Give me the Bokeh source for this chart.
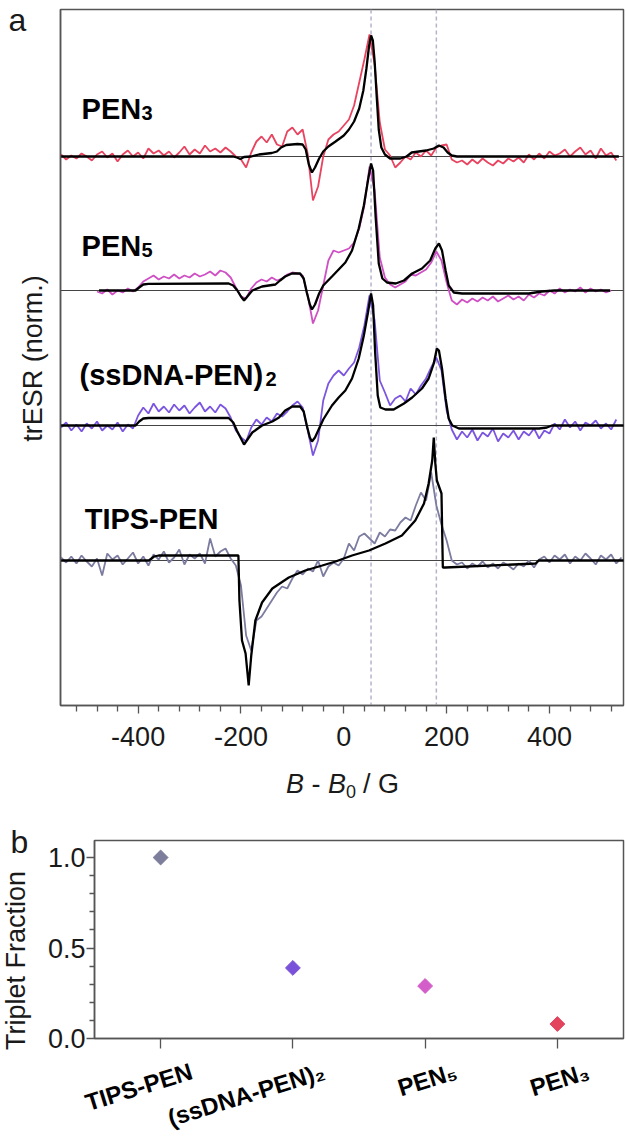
import math
from bokeh.plotting import figure
from bokeh.models import FixedTicker, Label, Span, NumeralTickFormatter, Range1d, CustomLabelingPolicy
from bokeh.embed import file_html
from bokeh.resources import INLINE

FONT = "Liberation Sans"

# ---------------- panel a data (trESR spectra, B - B0 in G) ----------------
SAMPLES = ["PEN", "PEN", "(ssDNA-PEN)", "TIPS-PEN"]
SUBSCRIPTS = ["3", "5", "2", ""]
TRACE_COLORS = ["#e8435f", "#cf4fc4", "#7b55e0", "#7c7ca0"]
OFFSETS = [4.04, 2.70, 1.35, 0.0]
FIELD_STEP = 10

PEN3_START = -550
PEN3_EXP = [0.02, -0.03, 0.01, -0.02, 0.03, 0.00, -0.04, 0.02, 0.05, -0.01,
            0.03, -0.05, 0.02, 0.06, 0.00, 0.04, -0.02, 0.08, 0.03, 0.06,
            0.01, 0.05, -0.01, 0.04, 0.10, 0.02, 0.07, 0.03, 0.11, 0.05,
            0.08, 0.04, 0.09, 0.05, 0.00, -0.03, -0.11, 0.04, 0.15, 0.20,
            0.14, 0.22, 0.12, 0.10, 0.25, 0.29, 0.22, 0.27, 0.02, -0.44,
            -0.30, 0.00, 0.17, 0.22, 0.25, 0.31, 0.37, 0.51, 0.74, 0.97,
            1.22, 0.92, 0.34, 0.07, 0.01, -0.11, -0.06, 0.00, -0.03, 0.04,
            0.00, 0.06, 0.01, 0.09, 0.11, 0.12, -0.03, -0.06, -0.04, -0.08,
            -0.03, -0.07, -0.02, -0.06, -0.09, -0.04, -0.07, -0.02, -0.05, -0.01,
            -0.06, 0.02, -0.03, 0.03, -0.02, 0.05, 0.01, 0.03, 0.07, 0.00,
            0.05, 0.09, 0.02, 0.06, -0.02, 0.08, 0.01, 0.04, -0.04]
PEN3_FIT_X = [-551, -215, -208, -201, -194, -180, -165, -140, -130, -122, -112, -90, -80,
              -74, -68, -62, -56, -48, -40, -30, -16, 0, 10, 20, 30, 38, 44, 49, 53, 56.5,
              60, 64, 68, 73, 80, 90, 110, 122, 132, 160, 175, 185, 194, 202, 210, 220, 535]
PEN3_FIT_Y = [0.0, 0.0, -0.01, -0.025, -0.005, 0.0, 0.02, 0.035, 0.05, 0.09, 0.115, 0.125, 0.12,
              0.07, -0.08, -0.16, -0.11, -0.02, 0.05, 0.10, 0.15, 0.21, 0.27, 0.35, 0.48, 0.66,
              0.88, 1.10, 1.21, 1.16, 0.95, 0.60, 0.27, 0.09, 0.02, -0.02, -0.02, 0.0, 0.04,
              0.06, 0.08, 0.11, 0.09, 0.04, 0.01, 0.0, 0.0]

PEN5_START = -480
PEN5_EXP = [-0.01, -0.03, 0.01, -0.04, 0.00, -0.02, 0.02, -0.01, 0.03, 0.09,
            0.12, 0.15, 0.11, 0.14, 0.12, 0.16, 0.12, 0.15, 0.13, 0.17,
            0.14, 0.16, 0.19, 0.15, 0.20, 0.18, 0.13, 0.03, -0.06, -0.08,
            0.02, 0.08, 0.11, 0.09, 0.13, 0.10, 0.12, 0.16, 0.18, 0.17,
            0.15, -0.05, -0.33, -0.20, 0.05, 0.30, 0.40, 0.38, 0.40, 0.42,
            0.48, 0.62, 0.85, 1.24, 1.00, 0.33, 0.13, 0.06, 0.03, 0.06,
            0.09, 0.16, 0.15, 0.18, 0.21, 0.28, 0.39, 0.30, 0.08, -0.10,
            -0.14, -0.09, -0.12, -0.08, -0.11, -0.07, -0.10, -0.06, -0.11, -0.08,
            -0.05, -0.09, -0.06, -0.10, -0.04, -0.07, -0.03, -0.05, 0.00, -0.03,
            0.02, -0.02, 0.01, -0.01, 0.03, -0.02, 0.02, -0.01, 0.01, -0.02, 0.00]
PEN5_FIT_X = [-476, -405, -398, -390, -380, -224, -215, -207, -200, -194, -186, -178, -159,
              -133, -124, -114, -101, -85, -78, -72, -66, -62, -56, -48, -40, -23, -10, 3, 16,
              29, 39, 47, 53, 57, 62, 68, 75, 84, 101, 117, 133, 152, 168, 178, 185, 191, 198,
              204, 214, 230, 360, 385, 410, 518]
PEN5_FIT_Y = [0.0, 0.0, 0.03, 0.06, 0.067, 0.07, 0.05, 0.0, -0.06, -0.10, -0.05, 0.0, 0.04,
              0.06, 0.10, 0.14, 0.17, 0.17, 0.12, -0.02, -0.14, -0.19, -0.14, -0.03, 0.05, 0.14,
              0.21, 0.28, 0.40, 0.62, 0.85, 1.10, 1.27, 1.20, 0.73, 0.27, 0.12, 0.08, 0.07, 0.10,
              0.17, 0.22, 0.30, 0.42, 0.47, 0.40, 0.20, 0.05, -0.02, -0.03, -0.03, -0.01, 0.0, 0.0]

SSDNA_START = -550
SSDNA_EXP = [-0.02, 0.03, -0.05, 0.01, -0.06, 0.02, -0.03, 0.04, -0.05, 0.00,
             -0.04, 0.03, -0.06, 0.01, -0.03, 0.10, 0.18, 0.12, 0.22, 0.14,
             0.19, 0.13, 0.21, 0.15, 0.20, 0.12, 0.18, 0.23, 0.14, 0.19,
             0.13, 0.21, 0.17, 0.08, -0.05, -0.12, -0.16, -0.02, 0.06, 0.01,
             0.08, 0.04, 0.12, 0.09, 0.14, 0.20, 0.24, 0.18, -0.05, -0.30,
             -0.15, 0.25, 0.42, 0.50, 0.55, 0.50, 0.57, 0.63, 0.78, 1.00,
             1.30, 1.05, 0.45, 0.33, 0.20, 0.27, 0.30, 0.24, 0.37, 0.31,
             0.40, 0.47, 0.58, 0.68, 0.55, 0.15, -0.04, -0.14, -0.06, -0.12,
             -0.04, -0.15, -0.07, -0.11, -0.03, -0.16, -0.08, -0.12, -0.05, -0.14,
             -0.06, -0.10, -0.03, -0.13, -0.05, -0.08, 0.02, -0.04, 0.06, -0.02,
             0.04, -0.05, 0.03, 0.00, 0.05, -0.03, 0.02, -0.04, 0.06]
SSDNA_FIT_X = [-551, -405, -398, -390, -380, -224, -215, -208, -200, -194, -186, -178, -159,
               -139, -126, -114, -100, -85, -78, -72, -66, -62, -56, -48, -40, -23, -10, 3, 16,
               29, 39, 47, 53, 57, 61, 66, 71, 81, 97, 117, 133, 152, 165, 175, 181, 185, 191,
               198, 204, 211, 224, 380, 395, 405, 545]
SSDNA_FIT_Y = [0.0, 0.0, 0.04, 0.07, 0.075, 0.075, 0.03, -0.05, -0.13, -0.19, -0.13, -0.07, 0.0,
               0.04, 0.08, 0.15, 0.19, 0.19, 0.14, 0.0, -0.12, -0.16, -0.12, -0.03, 0.06, 0.20,
               0.28, 0.35, 0.47, 0.67, 0.90, 1.13, 1.32, 1.20, 0.73, 0.30, 0.18, 0.16, 0.16, 0.22,
               0.28, 0.37, 0.47, 0.62, 0.77, 0.75, 0.57, 0.27, 0.07, 0.0, -0.03, -0.03, -0.02,
               0.0, 0.0]

TIPS_START = -550
TIPS_EXP = [0.03, -0.02, 0.04, -0.03, 0.05, -0.01, -0.06, 0.02, -0.15, 0.07,
            0.01, 0.05, -0.04, 0.02, 0.08, -0.03, 0.04, -0.05, 0.06, 0.01,
            0.09, -0.02, 0.03, 0.11, -0.04, 0.06, 0.02, 0.07, -0.03, 0.22,
            0.04, 0.09, 0.12, 0.02, -0.05, -0.25, -0.75, -0.90, -0.60, -0.56,
            -0.48, -0.40, -0.32, -0.26, -0.28, -0.18, -0.10, -0.14, -0.08, -0.11,
            0.00, -0.16, -0.06, -0.02, -0.05, 0.02, 0.17, 0.10, 0.24, 0.27,
            0.22, 0.17, 0.28, 0.24, 0.31, 0.30, 0.38, 0.43, 0.40, 0.55,
            0.68, 0.60, 0.88, 0.55, 0.36, 0.20, 0.00, -0.04, -0.02, -0.08,
            -0.03, -0.06, -0.01, -0.07, -0.03, -0.08, -0.02, -0.05, -0.09, -0.03,
            -0.06, 0.00, -0.07, 0.01, 0.04, -0.02, 0.05, 0.01, 0.06, -0.03,
            0.04, 0.00, 0.07, 0.02, -0.04, 0.05, 0.01, 0.06, -0.03, 0.03]
TIPS_FIT_X = [-551, -379, -369, -360, -205, -203, -198, -191, -185, -180, -172, -159, -139,
              -107, -75, -42, -16, 16, 49, 81, 113, 139, 156, 165, 172, 175, 178, 181, 190,
              192.6, 198, 373, 379, 545]
TIPS_FIT_Y = [0.0, 0.0, 0.04, 0.05, 0.05, -0.40, -0.80, -0.93, -1.25, -0.95, -0.60, -0.42, -0.28,
              -0.17, -0.10, -0.05, -0.01, 0.05, 0.10, 0.17, 0.25, 0.40, 0.57, 0.77, 1.00, 1.23,
              0.97, 0.80, 0.67, -0.07, -0.07, -0.03, 0.0, 0.0]

MARKER_FIELDS = [53, 180]
X_TICKS = [-400, -200, 0, 200, 400]
X_TICK_TEXT = ["-400", "-200", "0", "200", "400"]
X_MINOR = [-520, -480, -440, -360, -320, -280, -240, -160, -120, -80, -40,
           40, 80, 120, 160, 240, 280, 320, 360, 440, 480, 520]

# ---------------- panel b data ----------------
CATEGORIES = ["TIPS-PEN", "(ssDNA-PEN)₂", "PEN₅", "PEN₃"]
TRIPLET_FRACTION = [1.00, 0.39, 0.29, 0.08]
POINT_COLORS = ["#7d7d9c", "#7a52d9", "#d35ec9", "#e4435d"]
Y_TICKS_B = [0.0, 0.5, 1.0]
Y_MINOR_B = [0.1, 0.2, 0.3, 0.4, 0.6, 0.7, 0.8, 0.9]

FRAME = "#555555"
TXT = "#1a1a1a"
PAGE_W, PAGE_H = 626, 1138

# ======================= panel a =======================
A_TOP, A_H = 0, 800
A_BORDER = dict(left=60, right=3, top=9, bottom=95)
A_XR = (-551, 544)
p = figure(width=PAGE_W, height=A_H, x_range=Range1d(*A_XR), y_range=Range1d(-1.45, 5.51),
           output_backend="svg", toolbar_location=None,
           min_border_left=A_BORDER["left"], min_border_right=A_BORDER["right"],
           min_border_top=A_BORDER["top"], min_border_bottom=A_BORDER["bottom"])
p.styles = {"position": "absolute", "top": f"{A_TOP}px", "left": "0px"}
p.grid.visible = False
p.outline_line_color = FRAME
p.outline_line_width = 1.5
p.background_fill_color = "white"
p.border_fill_color = "white"

p.xaxis.ticker = FixedTicker(ticks=X_TICKS, minor_ticks=X_MINOR)
p.xaxis.major_label_overrides = dict(zip(X_TICKS, X_TICK_TEXT))
p.xaxis.axis_line_color = FRAME
p.xaxis.axis_line_width = 1.5
p.xaxis.major_tick_line_color = FRAME
p.xaxis.minor_tick_line_color = FRAME
p.xaxis.major_tick_line_width = 1.3
p.xaxis.minor_tick_line_width = 1.3
p.xaxis.major_tick_in = 0
p.xaxis.major_tick_out = 8
p.xaxis.minor_tick_in = 0
p.xaxis.minor_tick_out = 6
p.xaxis.major_label_text_font = FONT
p.xaxis.major_label_text_font_size = "27px"
p.xaxis.major_label_text_color = TXT
p.xaxis.major_label_standoff = 13

p.yaxis.ticker = FixedTicker(ticks=[])
p.yaxis.axis_line_color = FRAME
p.yaxis.axis_line_width = 1.5
p.yaxis.major_tick_line_color = None
p.yaxis.minor_tick_line_color = None

for f in MARKER_FIELDS:
    p.add_layout(Span(location=f, dimension="height", line_color="#b4b4cc",
                      line_dash="4 3", line_width=1.5, level="underlay"))
for off in OFFSETS:
    p.add_layout(Span(location=off, dimension="width", line_color="#444444",
                      line_width=1, level="underlay"))

traces = [(PEN3_START, PEN3_EXP, PEN3_FIT_X, PEN3_FIT_Y),
          (PEN5_START, PEN5_EXP, PEN5_FIT_X, PEN5_FIT_Y),
          (SSDNA_START, SSDNA_EXP, SSDNA_FIT_X, SSDNA_FIT_Y),
          (TIPS_START, TIPS_EXP, TIPS_FIT_X, TIPS_FIT_Y)]
# sample-name label placement (field position, height above baseline, subscript shift px)
label_x = [-510, -510, -514, -504]
label_dy = [0.48, 0.45, 0.51, 0.42]
sub_dx = [60, 60, 186, 0]

for k, ((start, exp, fx, fy), off, col) in enumerate(zip(traces, OFFSETS, TRACE_COLORS)):
    xs = [start + FIELD_STEP * i for i in range(len(exp))]
    p.line(xs, [v + off for v in exp], line_color=col, line_width=1.8)
    p.line(fx, [v + off for v in fy], line_color="black", line_width=2.3)
    p.add_layout(Label(x=label_x[k], y=off + label_dy[k], text=SAMPLES[k], text_font=FONT,
                       text_font_style="bold", text_font_size="29px", text_color="black",
                       text_baseline="alphabetic"))
    if SUBSCRIPTS[k]:
        p.add_layout(Label(x=label_x[k], y=off + label_dy[k] - 0.04, x_offset=sub_dx[k],
                           text=SUBSCRIPTS[k], text_font=FONT, text_font_style="bold",
                           text_font_size="20px", text_color="black",
                           text_baseline="alphabetic"))

# ======================= panel b =======================
B_TOP, B_H = 800, 338
B_BORDER = dict(left=94, right=3, top=40, bottom=100)
B_XR = (-0.5, 3.5)
q = figure(width=PAGE_W, height=B_H, x_range=Range1d(*B_XR), y_range=Range1d(0, 1.094),
           output_backend="svg", toolbar_location=None,
           min_border_left=B_BORDER["left"], min_border_right=B_BORDER["right"],
           min_border_top=B_BORDER["top"], min_border_bottom=B_BORDER["bottom"])
q.styles = {"position": "absolute", "top": f"{B_TOP}px", "left": "0px"}
q.grid.visible = False
q.outline_line_color = FRAME
q.outline_line_width = 1.5
q.background_fill_color = "white"
q.border_fill_color = "white"

xpos = list(range(len(CATEGORIES)))
q.scatter(xpos, TRIPLET_FRACTION, marker="square", angle=math.pi / 4, size=10.5,
          fill_color=POINT_COLORS, line_color=POINT_COLORS)

q.xaxis.ticker = FixedTicker(ticks=xpos, minor_ticks=[])
q.xaxis.axis_line_color = FRAME
q.xaxis.axis_line_width = 1.5
q.xaxis.major_tick_line_color = FRAME
q.xaxis.major_tick_line_width = 1.3
q.xaxis.major_tick_in = 0
q.xaxis.major_tick_out = 10
q.xaxis.major_label_policy = CustomLabelingPolicy(code="return new Set()")

q.yaxis.ticker = FixedTicker(ticks=Y_TICKS_B, minor_ticks=Y_MINOR_B)
q.yaxis.formatter = NumeralTickFormatter(format="0.0")
q.yaxis.axis_line_color = FRAME
q.yaxis.axis_line_width = 1.5
q.yaxis.major_tick_line_color = FRAME
q.yaxis.minor_tick_line_color = FRAME
q.yaxis.major_tick_line_width = 1.3
q.yaxis.minor_tick_line_width = 1.3
q.yaxis.major_tick_in = 0
q.yaxis.major_tick_out = 8
q.yaxis.minor_tick_in = 0
q.yaxis.minor_tick_out = 5
q.yaxis.major_label_text_font = FONT
q.yaxis.major_label_text_font_size = "27px"
q.yaxis.major_label_text_color = TXT
q.yaxis.major_label_standoff = 1

# ======================= text overlay (titles and panel letters) =======================
o = figure(width=PAGE_W, height=PAGE_H, x_range=Range1d(0, PAGE_W), y_range=Range1d(PAGE_H, 0),
           output_backend="svg", toolbar_location=None, min_border=0,
           x_axis_location=None, y_axis_location=None)
o.styles = {"position": "absolute", "top": "0px", "left": "0px"}
o.grid.visible = False
o.outline_line_color = None
o.background_fill_alpha = 0
o.border_fill_alpha = 0


def txt(x, y, text, size="27px", style="normal", align="left", baseline="alphabetic",
        angle=0.0, color=TXT):
    o.add_layout(Label(x=x, y=y, text=text, text_font=FONT, text_font_size=size,
                       text_font_style=style, text_align=align, text_baseline=baseline,
                       angle=angle, text_color=color))


# panel letters
txt(8, 19, "a", size="32px")
txt(10, 841, "b", size="32px")
# panel a axis titles
txt(32, 358, "trESR (norm.)", align="center", angle=math.pi / 2)
for t, x, y, fs, st in [("B", 285.5, 783, "27px", "italic"), ("-", 311, 783, "27px", "normal"),
                        ("B", 327.5, 783, "27px", "italic"), ("0", 345.5, 791, "18px", "normal"),
                        ("/", 362.5, 783, "27px", "normal"), ("G", 377.5, 783, "27px", "normal")]:
    txt(x, y, t, size=fs, style=st)
# panel b axis title
txt(15, 960, "Triplet Fraction", align="center", angle=math.pi / 2)
# panel b category labels (rotated, end placed just right of each tick)
b_frame_w = PAGE_W - B_BORDER["left"] - B_BORDER["right"]
for i, name in enumerate(CATEGORIES):
    tick_px = B_BORDER["left"] + (i - B_XR[0]) / (B_XR[1] - B_XR[0]) * b_frame_w
    txt(tick_px + 31, 1070, name, size="24px", style="bold", align="right",
        baseline="middle", angle=0.30, color="black")

open("out.html", "w").write(file_html([p, q, o], INLINE))
